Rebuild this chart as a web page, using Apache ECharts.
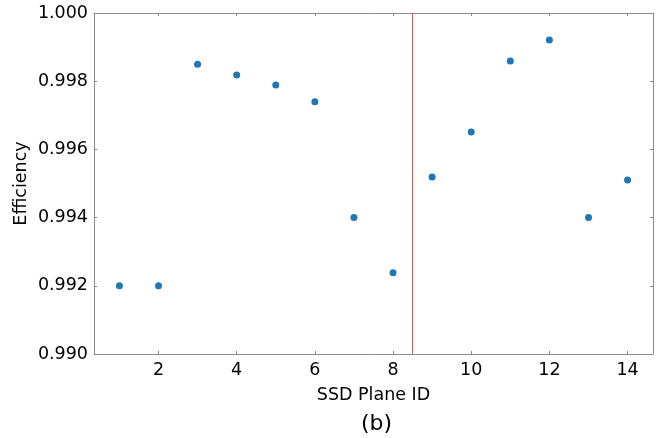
<!DOCTYPE html>
<html><head><meta charset="utf-8">
<script src="https://cdn.jsdelivr.net/npm/echarts@6/dist/echarts.min.js"></script>
<style>html,body{margin:0;padding:0;background:#fff}#c{width:664px;height:438px}</style>
</head><body><div id="c"></div>
<script>
const planeIds = [1,2,3,4,5,6,7,8,9,10,11,12,13,14];
const efficiency = [0.9920,0.9920,0.9985,0.99818,0.99789,0.99740,0.9940,0.99238,0.99519,0.99651,0.99859,0.99921,0.9940,0.99510];
const xTicks = [2,4,6,8,10,12,14];
const yTicks = [0.990,0.992,0.994,0.996,0.998,1.000];
const dividerX = 8.5;

const font = 'DejaVu Sans';
const axisColor = '#8a8a8a';
const fs = 17.5;
const chart = echarts.init(document.getElementById('c'), null, {renderer:'canvas'});
const xBase = {type:'value', min:0.35, max:14.65,
  axisLine:{show:true, lineStyle:{color:axisColor, width:1}},
  splitLine:{show:false}};
const yBase = {type:'value', min:0.990, max:1.000, interval:0.002,
  axisLine:{show:true, lineStyle:{color:axisColor, width:1}},
  splitLine:{show:false}};
chart.setOption({
  animation:false,
  grid:{left:94, right:11, top:13, bottom:84, containLabel:false},
  xAxis:[
    Object.assign({}, xBase, {position:'bottom', name:'SSD Plane ID', nameLocation:'middle', nameGap:32,
      nameTextStyle:{fontFamily:font, fontSize:fs, color:'#000'},
      axisTick:{show:true, inside:true, length:3, lineStyle:{color:axisColor}, customValues:xTicks},
      axisLabel:{fontFamily:font, fontSize:fs, color:'#000', margin:7, customValues:xTicks}}),
    Object.assign({}, xBase, {position:'top',
      axisTick:{show:true, inside:true, length:3, lineStyle:{color:axisColor}, customValues:xTicks},
      axisLabel:{show:false}})
  ],
  yAxis:[
    Object.assign({}, yBase, {position:'left', name:'Efficiency', nameLocation:'middle', nameGap:64,
      nameMoveOverlap:false,
      nameTextStyle:{fontFamily:font, fontSize:fs, color:'#000'},
      axisTick:{show:true, inside:true, length:3, lineStyle:{color:axisColor}},
      axisLabel:{fontFamily:font, fontSize:fs, color:'#000', margin:6,
        formatter:v=>v.toFixed(3)}}),
    Object.assign({}, yBase, {position:'right',
      axisTick:{show:true, inside:true, length:3, lineStyle:{color:axisColor}},
      axisLabel:{show:false}})
  ],
  series:[
    {type:'line', xAxisIndex:0, yAxisIndex:0, silent:true, symbol:'none',
      lineStyle:{color:'#d9454a', width:1},
      data:[[dividerX, 0.990],[dividerX, 1.000]], z:1},
    {type:'scatter', xAxisIndex:0, yAxisIndex:0, symbolSize:7,
      itemStyle:{color:'#1f77b4', opacity:1},
      data: planeIds.map((x,i)=>[x, efficiency[i]]), z:2}
  ],
  graphic:[{type:'text', left:361, top:413, style:{text:'(b)', fontFamily:font, fontSize:22, fill:'#000'}}]
});
</script></body></html>
